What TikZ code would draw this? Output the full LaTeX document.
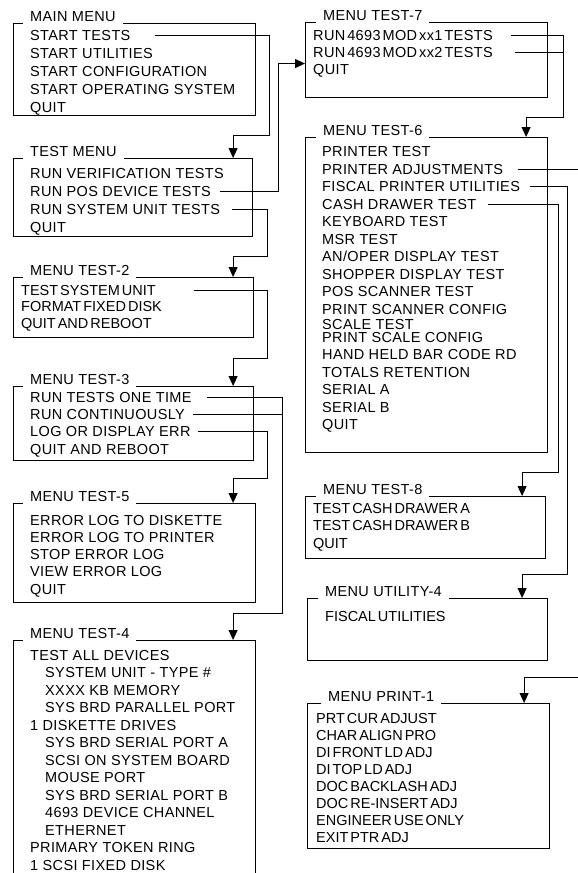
\documentclass[tikz,border=0pt]{standalone}
\usepackage{fontspec}
\setmainfont{Liberation Sans}[LetterSpace=2.5]
\newfontfamily\tightfam{Liberation Sans}
\usetikzlibrary{arrows.meta}
\newcommand\menufont{\fontsize{14.5}{17}\selectfont}
\newcommand\tightsp{\spaceskip=2pt\relax}
\begin{document}
\begin{tikzpicture}[x=1pt,y=-1pt,
  menubox/.style={draw,line width=1.1pt,anchor=north west,inner sep=0pt},
  menutitle/.style={fill=white,anchor=west,inner xsep=7pt,inner ysep=3pt,text height=10pt,text depth=0pt,font=\menufont},
  entry/.style={anchor=west,inner sep=0pt,text height=10pt,text depth=0pt,font=\menufont},
  tightentry/.style={entry,font=\tightfam\menufont\tightsp},
  narrowentry/.style={entry,font=\menufont\tightsp},
  conn/.style={line width=0.9pt},
  arr/.style={conn,-{Triangle[length=10pt,width=9pt]}}]
\useasboundingbox (0,0) rectangle (578,873);
\clip (0,0) rectangle (578,873);

% left column
\node[menubox,minimum width=242pt,minimum height=92pt] (main) at (13,23) {};
\node[menutitle] at (23,16) {MAIN MENU};
\foreach \lab [count=\i] in {START TESTS,START UTILITIES,START CONFIGURATION,START OPERATING SYSTEM,QUIT}
  \node[entry] (mm\i) at (30,17+18*\i) {\lab};

\node[menubox,minimum width=239pt,minimum height=78pt] (tmenu) at (13,158) {};
\node[menutitle] at (23,151) {TEST MENU};
\foreach \lab [count=\i] in {RUN VERIFICATION TESTS,RUN POS DEVICE TESTS,RUN SYSTEM UNIT TESTS,QUIT}
  \node[entry] (tm\i) at (30,155+18*\i) {\lab};

\node[menubox,minimum width=240pt,minimum height=60pt] (tst2) at (13,277) {};
\node[menutitle] at (23,270) {MENU TEST-2};
\foreach \lab [count=\i] in {TEST SYSTEM UNIT,FORMAT FIXED DISK,QUIT AND REBOOT}
  \node[tightentry] (ta\i) at (21,273.5+16.5*\i) {\lab};

\node[menubox,minimum width=240pt,minimum height=74pt] (tst3) at (13,386) {};
\node[menutitle] at (23,379) {MENU TEST-3};
\foreach \lab [count=\i] in {RUN TESTS ONE TIME,RUN CONTINUOUSLY,LOG OR DISPLAY ERR,QUIT AND REBOOT}
  \node[entry] (tc\i) at (30,379.6+17.4*\i) {\lab};

\node[menubox,minimum width=242pt,minimum height=99pt] (tst5) at (13,503) {};
\node[menutitle] at (23,496) {MENU TEST-5};
\foreach \lab [count=\i] in {ERROR LOG TO DISKETTE,ERROR LOG TO PRINTER,STOP ERROR LOG,VIEW ERROR LOG,QUIT}
  \node[entry] (te\i) at (30,502.7+17.3*\i) {\lab};

\node[menubox,minimum width=242pt,minimum height=260pt] (tst4) at (13,640) {};
\node[menutitle] at (23,633) {MENU TEST-4};
\foreach \x/\lab [count=\i] in {30/TEST ALL DEVICES,45/SYSTEM UNIT - TYPE \#,45/XXXX KB MEMORY,
    45/SYS BRD PARALLEL PORT,30/1 DISKETTE DRIVES,45/SYS BRD SERIAL PORT A,45/SCSI ON SYSTEM BOARD,
    45/MOUSE PORT,45/SYS BRD SERIAL PORT B,45/4693 DEVICE CHANNEL,45/ETHERNET,
    30/PRIMARY TOKEN RING,30/1 SCSI FIXED DISK}
  \node[entry] (td\i) at (\x,637.5+17.5*\i) {\lab};

% right column
\node[menubox,minimum width=242pt,minimum height=75pt] (tst7) at (305,22) {};
\node[menutitle] at (316,15) {MENU TEST-7};
\foreach \lab [count=\i] in {RUN 4693 MOD xx1 TESTS,RUN 4693 MOD xx2 TESTS,QUIT}
  \node[narrowentry] (ra\i) at (313,18+17*\i) {\lab};

\node[menubox,minimum width=242pt,minimum height=315pt] (tst6) at (305,137) {};
\node[menutitle] at (316,130) {MENU TEST-6};
\foreach \y/\lab [count=\i] in {151/PRINTER TEST,169/PRINTER ADJUSTMENTS,186.5/FISCAL PRINTER UTILITIES,
    204/CASH DRAWER TEST,221.5/KEYBOARD TEST,239/MSR TEST,256.5/{AN/OPER DISPLAY TEST},
    274/SHOPPER DISPLAY TEST,291.5/POS SCANNER TEST,309/PRINT SCANNER CONFIG,324/SCALE TEST,
    337/PRINT SCALE CONFIG,354.5/HAND HELD BAR CODE RD,372/TOTALS RETENTION,389.5/SERIAL A,
    407/SERIAL B,424.5/QUIT}
  \node[entry] (rb\i) at (322,\y) {\lab};

\node[menubox,minimum width=240pt,minimum height=62pt] (tst8) at (305,496) {};
\node[menutitle] at (316,489) {MENU TEST-8};
\foreach \lab [count=\i] in {TEST CASH DRAWER A,TEST CASH DRAWER B,QUIT}
  \node[tightentry] (rc\i) at (313,490.5+17.5*\i) {\lab};

\node[menubox,minimum width=240pt,minimum height=62pt] (util4) at (307,598) {};
\node[menutitle] at (318,591) {MENU UTILITY-4};
\node[tightentry] (ru1) at (325,616) {FISCAL UTILITIES};

\node[menubox,minimum width=242pt,minimum height=145pt] (prt1) at (307,703) {};
\node[menutitle] at (321,696) {MENU PRINT-1};
\foreach \lab [count=\i] in {PRT CUR ADJUST,CHAR ALIGN PRO,DI FRONT LD ADJ,DI TOP LD ADJ,
    DOC BACKLASH ADJ,DOC RE-INSERT ADJ,ENGINEER USE ONLY,EXIT PTR ADJ}
  \node[tightentry] (rp\i) at (316,701+17*\i) {\lab};

% connectors
\coordinate (busc) at (282,0);
\coordinate (busr) at (563,0);
\draw[arr] ([xshift=24pt]mm1.east) -| (269,135) -| ([xshift=-20pt]tmenu.north east);
\draw[arr] ([xshift=9pt]tm2.east) -| ([xshift=-27pt,yshift=-3.5pt]tst7.west) -- ([yshift=-3.5pt]tst7.west);
\draw[arr] ([xshift=12pt]tm3.east) -| (267,256) -| ([xshift=-21pt]tst2.north east);
\draw[arr] ([xshift=38pt]ta1.east) -| (267,358) -| ([xshift=-21pt]tst3.north east);
\draw[arr] ([xshift=15pt]tc1.east) -| (282,613) -| ([xshift=-23pt]tst4.north east);
\draw[conn] ([xshift=8pt]tc2.east) -- (tc2.east -| busc);
\draw[arr] ([xshift=7pt]tc3.east) -| (267,478) -| ([xshift=-23pt]tst5.north east);
\draw[arr] ([xshift=18pt]ra1.east) -| (563,117) -| ([xshift=-22pt]tst6.north east);
\draw[conn] ([xshift=22pt]ra2.east) -- (ra2.east -| busr);
\draw[arr] ([xshift=15pt]rb2.east) -| (582,677) -| ([xshift=-26pt]prt1.north east);
\draw[arr] ([xshift=10pt]rb3.east) -| (567,574) -| ([xshift=-26pt]util4.north east);
\draw[arr] ([xshift=12pt]rb4.east) -| (558,472) -| ([xshift=-24pt]tst8.north east);
\end{tikzpicture}
\end{document}
